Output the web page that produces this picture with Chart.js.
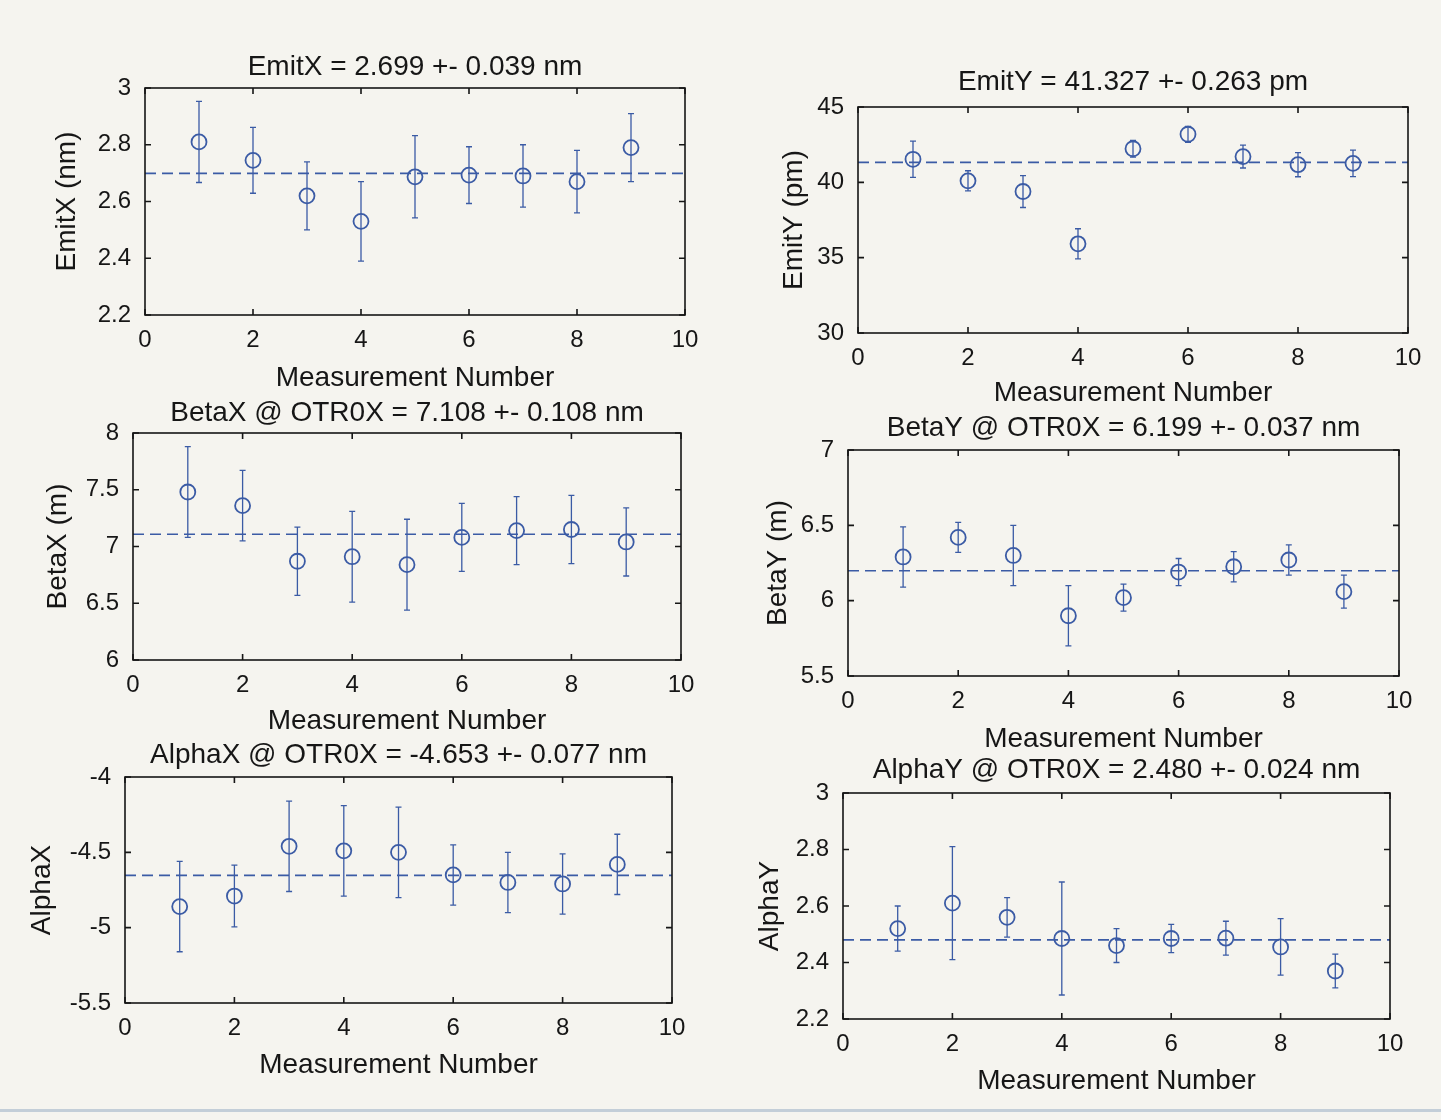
<!DOCTYPE html>
<html>
<head>
<meta charset="utf-8">
<script src="https://cdn.jsdelivr.net/npm/chart.js@4.4.1/dist/chart.umd.min.js"></script>
<style>
    html, body { margin: 0; padding: 0; background: #f5f4ef; }
    body { width: 1441px; height: 1120px; position: relative; overflow: hidden; }
    canvas { position: absolute; }
    .edge { position: absolute; left: 0; top: 1109px; width: 1441px; height: 3px; background: #c3ced8; }
</style>
</head>
<body>
<canvas id="emitX"></canvas>
<canvas id="emitY"></canvas>
<canvas id="betaX"></canvas>
<canvas id="betaY"></canvas>
<canvas id="alphaX"></canvas>
<canvas id="alphaY"></canvas>
<div class="edge"></div>
<script>
// measurement index shared by all six panels
const measNo = [1, 2, 3, 4, 5, 6, 7, 8, 9];
const xTicks = [0, 2, 4, 6, 8, 10];

const emitX = [2.81, 2.745, 2.62, 2.53, 2.687, 2.693, 2.69, 2.67, 2.79];
const emitXErr = [0.143, 0.116, 0.12, 0.14, 0.145, 0.10, 0.11, 0.11, 0.12];
const emitXMean = 2.699;
const emitXTicks = [2.2, 2.4, 2.6, 2.8, 3];

const emitY = [41.53, 40.10, 39.39, 35.92, 42.23, 43.19, 41.71, 41.17, 41.26];
const emitYErr = [1.2, 0.67, 1.06, 1.0, 0.56, 0.53, 0.76, 0.8, 0.88];
const emitYMean = 41.327;
const emitYTicks = [30, 35, 40, 45];

const betaX = [7.48, 7.36, 6.87, 6.91, 6.84, 7.08, 7.14, 7.15, 7.04];
const betaXErr = [0.40, 0.31, 0.30, 0.40, 0.40, 0.30, 0.30, 0.30, 0.30];
const betaXMean = 7.108;
const betaXTicks = [6, 6.5, 7, 7.5, 8];

const betaY = [6.29, 6.42, 6.30, 5.90, 6.02, 6.19, 6.225, 6.27, 6.06];
const betaYErr = [0.2, 0.1, 0.2, 0.2, 0.09, 0.09, 0.1, 0.1, 0.11];
const betaYMean = 6.199;
const betaYTicks = [5.5, 6, 6.5, 7];

const alphaX = [-4.86, -4.79, -4.46, -4.49, -4.50, -4.65, -4.70, -4.71, -4.58];
const alphaXErr = [0.30, 0.205, 0.30, 0.30, 0.30, 0.20, 0.20, 0.20, 0.20];
const alphaXMean = -4.653;
const alphaXTicks = [-5.5, -5, -4.5, -4];

const alphaY = [2.52, 2.61, 2.56, 2.485, 2.46, 2.485, 2.486, 2.455, 2.37];
const alphaYErr = [0.08, 0.20, 0.07, 0.2, 0.06, 0.05, 0.06, 0.10, 0.06];
const alphaYMean = 2.480;
const alphaYTicks = [2.2, 2.4, 2.6, 2.8, 3];

const BLUE = '#3b5ba5';
const INK = '#161616';
const FAMILY = '"Liberation Sans", Arial, sans-serif';
const TICK_FONT = { family: FAMILY, size: 24, weight: 'normal', lineHeight: 1.2 };
const LABEL_FONT = { family: FAMILY, size: 28, weight: 'normal', lineHeight: 1.2 };
const LABEL_H = 28 * 1.2;

const SIDE = 110;   // room left/right of the axes box
const TOP = 52;     // room above for the title
const BOTTOM = 88;  // room below for ticks + x label
const TICK = 6;

// box = [left, top, width, height] of the axes in page pixels
const panels = [
    { id: 'emitX', title: 'EmitX = 2.699 +- 0.039 nm', yTitle: 'EmitX (nm)', values: emitX, errors: emitXErr, mean: emitXMean, yTicks: emitXTicks, box: [145, 88, 540, 227], titleGap: 21, yTitleGap: 78, xTitleGap: 63 },
    { id: 'emitY', title: 'EmitY = 41.327 +- 0.263 pm', yTitle: 'EmitY (pm)', values: emitY, errors: emitYErr, mean: emitYMean, yTicks: emitYTicks, box: [858, 107, 550, 226], titleGap: 25, yTitleGap: 64, xTitleGap: 60 },
    { id: 'betaX', title: 'BetaX @ OTR0X = 7.108 +- 0.108 nm', yTitle: 'BetaX (m)', values: betaX, errors: betaXErr, mean: betaXMean, yTicks: betaXTicks, box: [133, 433, 548, 227], titleGap: 20, yTitleGap: 75, xTitleGap: 61 },
    { id: 'betaY', title: 'BetaY @ OTR0X = 6.199 +- 0.037 nm', yTitle: 'BetaY (m)', values: betaY, errors: betaYErr, mean: betaYMean, yTicks: betaYTicks, box: [848, 450, 551, 226], titleGap: 22, yTitleGap: 70, xTitleGap: 63 },
    { id: 'alphaX', title: 'AlphaX @ OTR0X = -4.653 +- 0.077 nm', yTitle: 'AlphaX', values: alphaX, errors: alphaXErr, mean: alphaXMean, yTicks: alphaXTicks, box: [125, 777, 547, 226], titleGap: 22, yTitleGap: 83, xTitleGap: 62 },
    { id: 'alphaY', title: 'AlphaY @ OTR0X = 2.480 +- 0.024 nm', yTitle: 'AlphaY', values: alphaY, errors: alphaYErr, mean: alphaYMean, yTicks: alphaYTicks, box: [843, 793, 547, 226], titleGap: 23, yTitleGap: 73, xTitleGap: 62 }
];

// vertical error bars with small caps, drawn under the markers
const errorBars = {
    id: 'errorBars',
    beforeDatasetsDraw(chart) {
        const { ctx, scales: { x, y } } = chart;
        ctx.save();
        ctx.strokeStyle = BLUE;
        ctx.lineWidth = 1.3;
        chart.data.datasets.forEach((ds) => {
            if (!ds.errors) return;
            ds.data.forEach((p, i) => {
                const px = x.getPixelForValue(p.x);
                const top = y.getPixelForValue(p.y + ds.errors[i]);
                const bot = y.getPixelForValue(p.y - ds.errors[i]);
                ctx.beginPath();
                ctx.moveTo(px, top); ctx.lineTo(px, bot);
                ctx.moveTo(px - 3, top); ctx.lineTo(px + 3, top);
                ctx.moveTo(px - 3, bot); ctx.lineTo(px + 3, bot);
                ctx.stroke();
            });
        });
        ctx.restore();
    }
};

// MATLAB style box with inward ticks on all four sides
const frame = {
    id: 'frame',
    afterDraw(chart) {
        const { ctx, chartArea: a, scales: { x, y } } = chart;
        ctx.save();
        ctx.strokeStyle = INK;
        ctx.lineWidth = 1.6;
        ctx.strokeRect(a.left, a.top, a.right - a.left, a.bottom - a.top);
        ctx.beginPath();
        x.ticks.forEach((t) => {
            const px = x.getPixelForValue(t.value);
            ctx.moveTo(px, a.bottom); ctx.lineTo(px, a.bottom - TICK);
            ctx.moveTo(px, a.top); ctx.lineTo(px, a.top + TICK);
        });
        y.ticks.forEach((t) => {
            const py = y.getPixelForValue(t.value);
            ctx.moveTo(a.left, py); ctx.lineTo(a.left + TICK, py);
            ctx.moveTo(a.right, py); ctx.lineTo(a.right - TICK, py);
        });
        ctx.stroke();
        ctx.restore();
    }
};

function buildPanel(p) {
    const [left, top, w, h] = p.box;
    const canvas = document.getElementById(p.id);
    canvas.width = w + 2 * SIDE;
    canvas.height = TOP + h + BOTTOM;
    canvas.style.left = (left - SIDE) + 'px';
    canvas.style.top = (top - TOP) + 'px';

    const titleBottom = p.titleGap - LABEL_H / 2;

    new Chart(canvas, {
        data: {
            datasets: [
                {
                    type: 'line',
                    data: [{ x: 0, y: p.mean }, { x: 10, y: p.mean }],
                    borderColor: BLUE,
                    borderWidth: 1.6,
                    borderDash: [11, 6],
                    pointRadius: 0
                },
                {
                    type: 'scatter',
                    data: measNo.map((m, i) => ({ x: m, y: p.values[i] })),
                    errors: p.errors,
                    pointStyle: 'circle',
                    pointRadius: 7.5,
                    pointBorderWidth: 1.8,
                    borderColor: BLUE,
                    backgroundColor: 'rgba(0,0,0,0)'
                }
            ]
        },
        options: {
            responsive: false,
            animation: false,
            events: [],
            layout: { padding: 0 },
            plugins: {
                legend: { display: false },
                tooltip: { enabled: false },
                title: {
                    display: true,
                    text: p.title,
                    color: INK,
                    font: LABEL_FONT,
                    padding: { top: TOP - LABEL_H - titleBottom, bottom: titleBottom }
                }
            },
            scales: {
                x: {
                    type: 'linear',
                    position: 'bottom',
                    min: 0,
                    max: 10,
                    afterBuildTicks: (s) => { s.ticks = xTicks.map((v) => ({ value: v })); },
                    afterFit: (s) => { s.height = BOTTOM; s.paddingLeft = 0; s.paddingRight = 0; },
                    grid: { display: false, drawTicks: false },
                    border: { display: false },
                    ticks: { color: INK, font: TICK_FONT, padding: 11, maxRotation: 0 },
                    title: {
                        display: true,
                        text: 'Measurement Number',
                        color: INK,
                        font: LABEL_FONT,
                        padding: { top: 0, bottom: BOTTOM - p.xTitleGap - LABEL_H / 2 }
                    }
                },
                y: {
                    type: 'linear',
                    position: 'left',
                    min: p.yTicks[0],
                    max: p.yTicks[p.yTicks.length - 1],
                    afterBuildTicks: (s) => { s.ticks = p.yTicks.map((v) => ({ value: v })); },
                    afterFit: (s) => { s.width = SIDE; s.paddingTop = 0; s.paddingBottom = 0; },
                    grid: { display: false, drawTicks: false },
                    border: { display: false },
                    ticks: { color: INK, font: TICK_FONT, padding: 14, callback: (v) => String(v) },
                    title: {
                        display: true,
                        text: p.yTitle,
                        color: INK,
                        font: LABEL_FONT,
                        padding: { top: SIDE - p.yTitleGap - LABEL_H / 2, bottom: 0 }
                    }
                },
                // empty right-hand axis so the title centres over the box
                yRight: {
                    type: 'linear',
                    position: 'right',
                    min: 0,
                    max: 1,
                    afterFit: (s) => { s.width = SIDE; s.paddingTop = 0; s.paddingBottom = 0; },
                    grid: { display: false, drawTicks: false },
                    border: { display: false },
                    ticks: { display: false }
                }
            }
        },
        plugins: [errorBars, frame]
    });
}

panels.forEach(buildPanel);
</script>
</body>
</html>
